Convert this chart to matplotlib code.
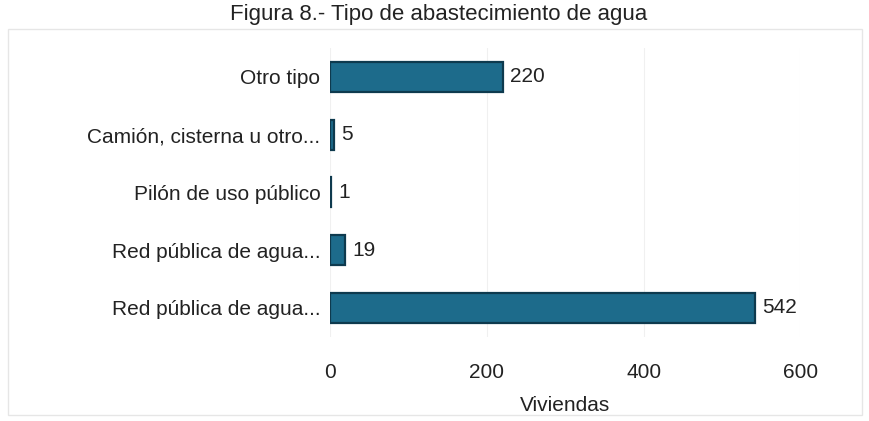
import matplotlib
matplotlib.use("Agg")
import matplotlib.pyplot as plt
from matplotlib.patches import Rectangle

categories = ["Red pública de agua...", "Red pública de agua...", "Pilón de uso público",
              "Camión, cisterna u otro...", "Otro tipo"]
values = [542, 19, 1, 5, 220]
xticks = [0, 200, 400, 600]

plt.rcParams['font.family'] = ['Liberation Sans', 'DejaVu Sans']
FS = 15

fig = plt.figure(figsize=(8.69, 4.21), dpi=100)
ax = fig.add_axes([0.380, 0.200, 0.541, 0.686])

ypos = list(range(len(categories)))
ax.barh(ypos, values, height=0.52, color='#1d6b8b', edgecolor='#0e3a4e', linewidth=1.6)
for y, v in zip(ypos, values):
    ax.text(v + 9, y, str(v), va='center', ha='left', fontsize=FS, color='#222222')

ax.set_xlim(0, 600)
ax.set_ylim(-0.5, len(categories) - 0.5)
ax.set_xticks(xticks)
ax.set_xticklabels([str(t) for t in xticks], fontsize=FS, color='#222222')
ax.set_yticks(ypos)
ax.set_yticklabels(categories, fontsize=FS, color='#222222')
ax.tick_params(axis='both', length=0)
ax.tick_params(axis='x', pad=19)
ax.tick_params(axis='y', pad=7)
for s in ax.spines.values():
    s.set_visible(False)
ax.grid(axis='x', color='#f0f0f0', linewidth=0.8)
ax.set_axisbelow(True)
ax.set_xlabel("Viviendas", fontsize=FS, color='#222222', labelpad=10)

fig.text(0.505, 1 - 20/421, "Figura 8.- Tipo de abastecimiento de agua", ha='center',
         va='baseline', fontsize=16, color='#222222')
fig.patches.append(Rectangle((8/869, 6/421), 854/869, 386/421, transform=fig.transFigure,
                             fill=False, edgecolor='#e6e6e6', linewidth=1.0))

fig.savefig("out.png", dpi=100)
